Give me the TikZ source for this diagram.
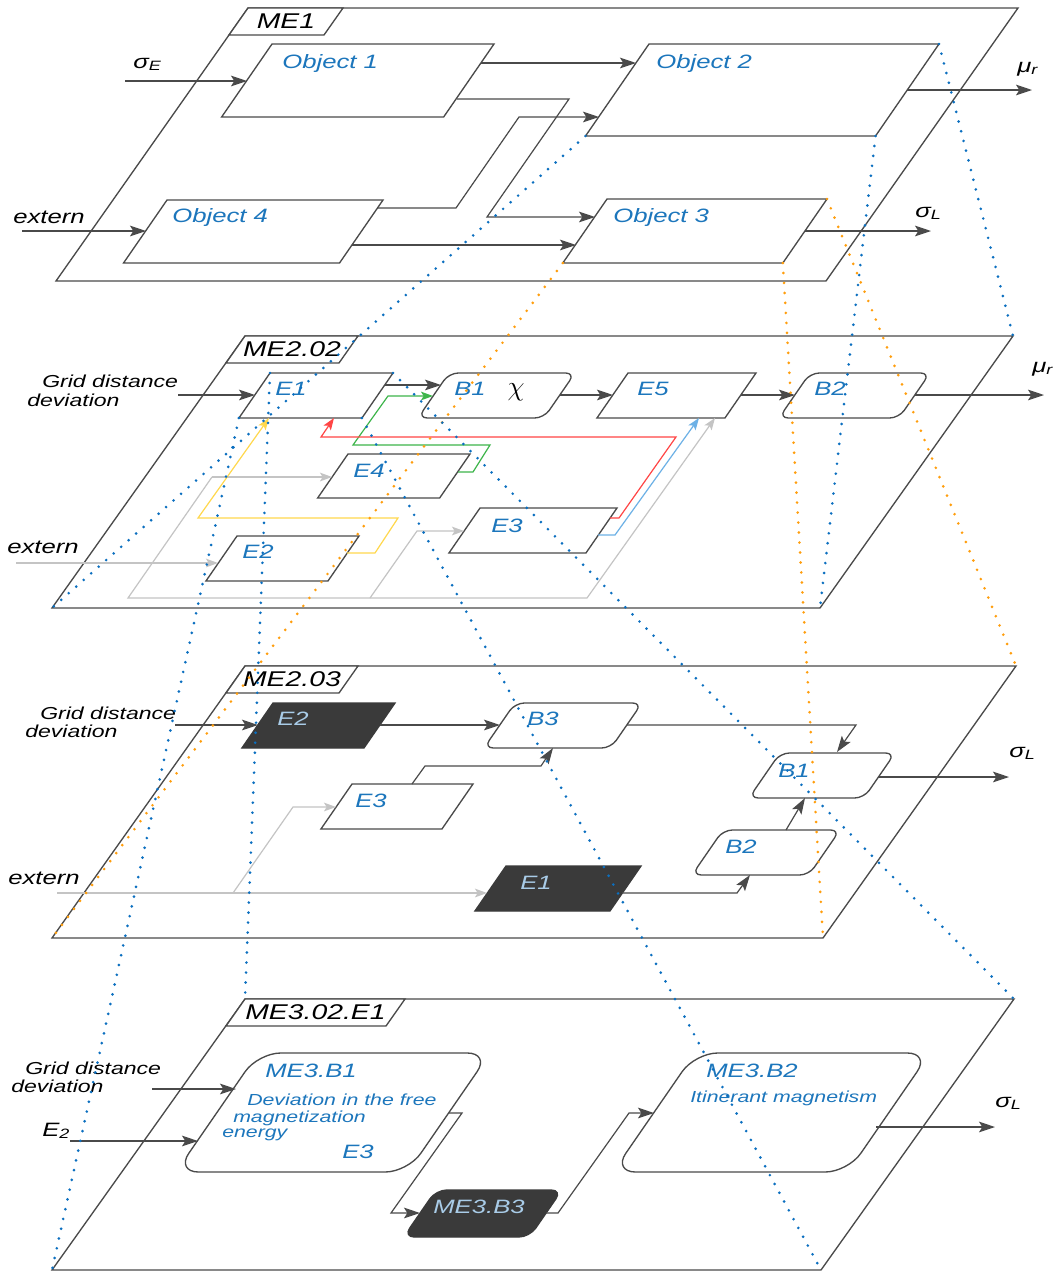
\documentclass[tikz,border=0pt]{standalone}
\usepackage{fontspec}
\setmainfont{Liberation Sans}[FakeStretch=1.33]
\usetikzlibrary{arrows.meta,calc}
\definecolor{dk}{HTML}{4A4A4A}
\definecolor{tb}{HTML}{1C76BC}
\definecolor{tlb}{HTML}{A9CCE8}
\definecolor{gr}{HTML}{C4C4C4}
\definecolor{ye}{HTML}{FFD84D}
\definecolor{gn}{HTML}{3DB54A}
\definecolor{rd}{HTML}{FF4545}
\definecolor{lb}{HTML}{6DB1E6}
\definecolor{dotb}{HTML}{0B6FC0}
\definecolor{doto}{HTML}{FF9E0D}
\definecolor{blk}{HTML}{3A3A3A}
\newcommand{\fo}{\fontsize{14.5}{16}\selectfont\itshape}
\newcommand{\fg}{\fontsize{13}{15}\selectfont\itshape}
\newcommand{\ftab}{\fontsize{16}{18}\selectfont\itshape}
\newcommand{\fsm}{\fontsize{12}{14}\selectfont\itshape}
% parallelogram: [style]{name}{x}{y}{w}{h}
\newcommand{\pgm}[6][]{%
  \coordinate (#2-tl) at (#3,#4);
  \coordinate (#2-tr) at ({#3+#5},#4);
  \coordinate (#2-br) at ({#3+#5-0.69*#6},{#4+#6});
  \coordinate (#2-bl) at ({#3-0.69*#6},{#4+#6});
  \draw[#1] ($(#2-tl)!0.5!(#2-tr)$) -- (#2-tr) -- (#2-br) -- (#2-bl) -- (#2-tl) -- cycle;
}
% layer frame: {name}{x}{y}{w}{h}{shear}{tabw}
\newcommand{\lay}[7]{%
  \coordinate (#1-tl) at (#2,#3);
  \coordinate (#1-tr) at ({#2+#4},#3);
  \coordinate (#1-br) at ({#2+#4-#6},{#3+#5});
  \coordinate (#1-bl) at ({#2-#6},{#3+#5});
  \draw[ln] (#1-tl) -- (#1-tr) -- (#1-br) -- (#1-bl) -- cycle;
  \coordinate (#1-ttr) at ({#2+#7},#3);
  \coordinate (#1-tbr) at ({#2+#7-19},{#3+27});
  \coordinate (#1-tbl) at ({#2-19},{#3+27});
  \draw[box] (#1-tl) -- (#1-ttr) -- (#1-tbr) -- (#1-tbl) -- cycle;
}
\begin{document}
\begin{tikzpicture}[x=0.75pt,y=-0.75pt,
  ln/.style={draw=dk,line width=1pt},
  box/.style={draw=dk,line width=1pt,fill=white},
  rbox/.style={box,rounded corners=7pt},
  bigr/.style={box,rounded corners=17pt},
  blk/.style={fill=blk,draw=blk,line width=1pt},
  blkr/.style={blk,rounded corners=8pt},
  con/.style={draw=dk,line width=0.9pt,-{Stealth[length=12pt,width=8pt,inset=2.5pt]}},
  ccon/.style={line width=0.9pt,-{Stealth[length=9pt,width=6.5pt,inset=2pt]}},
  bdot/.style={draw=dotb,line width=2.2pt,line cap=round,dash pattern=on 0pt off 7.5pt},
  odot/.style={draw=doto,line width=2.2pt,line cap=round,dash pattern=on 0pt off 7.5pt},
  tx/.style={inner sep=0pt,anchor=base west,text=tb,font=\fo},
  tw/.style={tx,text=tlb},
  tk/.style={inner sep=0pt,anchor=base west,text=black,font=\fo},
  tg/.style={inner sep=0pt,anchor=base west,text=black,font=\fg},
  tabl/.style={inner sep=0pt,text=black,font=\ftab}]
\useasboundingbox (0,0) rectangle (1056,1272);
\fill[white] (0,0) rectangle (1056,1272);

% ================= ME1 =================
\lay{M1}{248}{8}{770}{273}{192}{95}
\node[tabl] (tME1) at ($(M1-tl)!0.5!(M1-tbr)$) {ME1};
\pgm[box]{O1}{272}{44}{222}{73}
\pgm[box]{O2}{649}{44}{290}{92}
\pgm[box]{O3}{607}{199}{220}{64}
\pgm[box]{O4}{167}{200}{216}{63}
\node[tx] (tO1) at (282,68) {Object 1};
\node[tx] (tO2) at (656,68) {Object 2};
\node[tx] (tO3) at (613,222) {Object 3};
\node[tx] (tO4) at (172,222) {Object 4};
\node[tk] (sE) at (133,68) {σ\textsubscript{E}};
\node[tk] (ext1) at (13,223) {extern};
\node[tk] (mu1) at (1017,72) {μ\textsubscript{r}};
\node[tk] (sL1) at (915,217) {σ\textsubscript{L}};
\draw[con] (125,81) -- (247,81);
\draw[con] (22,231) -- (146,231);
\draw[con] (481,63) -- (636,63);
\draw[con] (457,99) -- (569,99) -- (487,217) -- (595,217);
\draw[con] (378,208) -- (456,208) -- (519,117) -- (599,117);
\draw[con] (352,245) -- (576,245);
\draw[con] (907,90) -- (1032,90);
\draw[con] (805,231) -- (931,231);

% ================= ME2.02 =================
\lay{M2}{245}{336}{768}{272}{193}{113}
\node[tabl] (tME2) at ($(M2-tl)!0.5!(M2-tbr)$) {ME2.02};
\pgm[box]{pE1}{270}{373}{123}{45}
\pgm[rbox]{pB1}{449}{373}{126}{45}
\pgm[box]{pE5}{628}{373}{128}{45}
\pgm[rbox]{pB2}{810}{373}{120}{45}
\pgm[box]{pE4}{348}{454}{122}{44}
\pgm[box]{pE2}{237}{536}{122}{45}
\pgm[box]{pE3}{480}{508}{137}{45}
\node[tx] (tpE1) at (275,395) {E1};
\node[tx] (tpB1) at (454,395) {B1};
\node[inner sep=0pt] (chi) at (516,392) {\fontsize{22}{22}\selectfont$\chi$};
\node[tx] (tpE5) at (637,395) {E5};
\node[tx] (tpB2) at (814,395) {B2};
\node[tx] (tpE4) at (353,477) {E4};
\node[tx] (tpE2) at (242,558) {E2};
\node[tx] (tpE3) at (491,532) {E3};
\node[tg] (g2a) at (42,387) {Grid distance};
\node[tg] (g2b) at (27,406) {deviation};
\node[tk] (ext2) at (7,553) {extern};
\node[tk] (mu2) at (1032,372) {μ\textsubscript{r}};
\draw[con] (178,395) -- (255,395);
\draw[con] (385,385) -- (441,385);
\draw[con] (560,395) -- (613,395);
\draw[con] (741,395) -- (795,395);
\draw[con] (915,395) -- (1044,395);
% gray network
\draw[ccon,draw=gr] (16,563) -- (218,563);
\draw[ccon,draw=gr] (212,477) -- (332,477);
\draw[ccon,draw=gr] (212,477) -- (128,598) -- (587,598) -- (715,418);
\draw[ccon,draw=gr] (370,598) -- (417,531) -- (464,531);
% yellow
\draw[ccon,draw=ye] (347,553) -- (375,553) -- (398,518) -- (198,518) -- (269,418);
% green
\draw[ccon,draw=gn] (458,472) -- (473,472) -- (490,445) -- (353,445) -- (388,396) -- (433,396);
% red
\draw[ccon,draw=rd] (610,518) -- (619,518) -- (676,437) -- (321,437) -- (334,418);
% light blue
\draw[ccon,draw=lb] (598,535) -- (615,535) -- (699,418);

% ================= ME2.03 =================
\lay{M3}{245}{666}{771}{272}{193}{113}
\node[tabl] (tME3) at ($(M3-tl)!0.5!(M3-tbr)$) {ME2.03};
\pgm[blk]{qE2}{273}{703}{122}{45}
\pgm[rbox]{qB3}{515}{703}{127}{45}
\pgm[rbox]{qB1}{780}{753}{115}{45}
\pgm[box]{qE3}{352}{784}{121}{45}
\pgm[blk]{qE1}{506}{866}{135}{45}
\pgm[rbox]{qB2}{723}{830}{117}{45}
\node[tw] (tqE2) at (277,725) {E2};
\node[tx] (tqB3) at (527,725) {B3};
\node[tx] (tqB1) at (778,777) {B1};
\node[tx] (tqE3) at (355,807) {E3};
\node[tw] (tqE1) at (520,889) {E1};
\node[tx] (tqB2) at (725,853) {B2};
\node[tg] (g3a) at (40,719) {Grid distance};
\node[tg] (g3b) at (25,737) {deviation};
\node[tk] (ext3) at (8,884) {extern};
\node[tk] (sL3) at (1009,757) {σ\textsubscript{L}};
\draw[con] (175,725) -- (258,725);
\draw[con] (380,725) -- (500,725);
\draw[con] (627,725) -- (856,725) -- (837,752);
\draw[con] (412,784) -- (425,766) -- (541,766) -- (553,748);
\draw[ccon,draw=gr] (57,893) -- (487,893);
\draw[ccon,draw=gr] (233,893) -- (293,807) -- (336,807);
\draw[con] (622,893) -- (737,893) -- (750,875);
\draw[con] (786,830) -- (805,798);
\draw[con] (878,777) -- (1009,777);

% ================= ME3.02.E1 =================
\lay{M4}{245}{999}{769}{271}{193}{160}
\node[tabl] (tME4) at ($(M4-tl)!0.5!(M4-tbr)$) {ME3.02.E1};
\pgm[bigr]{rB1}{258}{1053}{232}{119}
\pgm[bigr]{rB2}{695}{1053}{235}{119}
\pgm[blkr]{rB3}{436}{1190}{126}{47}
\node[tx] (trB1) at (265,1077) {ME3.B1};
\node[tx,font=\fsm] (trB1a) at (247,1105) {Deviation in the free};
\node[tx,font=\fsm] (trB1b) at (233,1122) {magnetization};
\node[tx,font=\fsm] (trB1c) at (222,1137) {energy};
\node[tx] (trB1d) at (342,1158) {E3};
\node[tw] (trB3) at (433,1213) {ME3.B3};
\node[tx] (trB2) at (706,1077) {ME3.B2};
\node[tx,font=\fsm] (trB2a) at (690,1102) {Itinerant magnetism};
\node[tg] (g4a) at (25,1074) {Grid distance};
\node[tg] (g4b) at (11,1092) {deviation};
\node[tk] (e2l) at (42,1136) {E\textsubscript{2}};
\node[tk] (sL4) at (995,1107) {σ\textsubscript{L}};
\draw[con] (152,1089) -- (236,1089);
\draw[con] (70,1141) -- (198,1141);
\draw[con] (449,1113) -- (462,1113) -- (391,1213) -- (420,1213);
\draw[con] (546,1213) -- (558,1213) -- (629,1113) -- (654,1113);
\draw[con] (876,1127) -- (995,1127);

% ================= zoom lines =================
\draw[bdot] (O2-bl) -- (M2-bl);
\draw[bdot] (O2-br) -- (M2-br);
\draw[bdot] (O2-tr) -- (M2-tr);
\draw[odot] (O3-bl) -- (M3-bl);
\draw[odot] (O3-br) -- (M3-br);
\draw[odot] (O3-tr) -- (M3-tr);
\draw[bdot] (pE1-tl) -- (M4-tl);
\draw[bdot] (pE1-tr) -- (M4-tr);
\draw[bdot] (pE1-br) -- (M4-br);
\draw[bdot] (pE1-bl) -- (M4-bl);
\end{tikzpicture}
\end{document}
